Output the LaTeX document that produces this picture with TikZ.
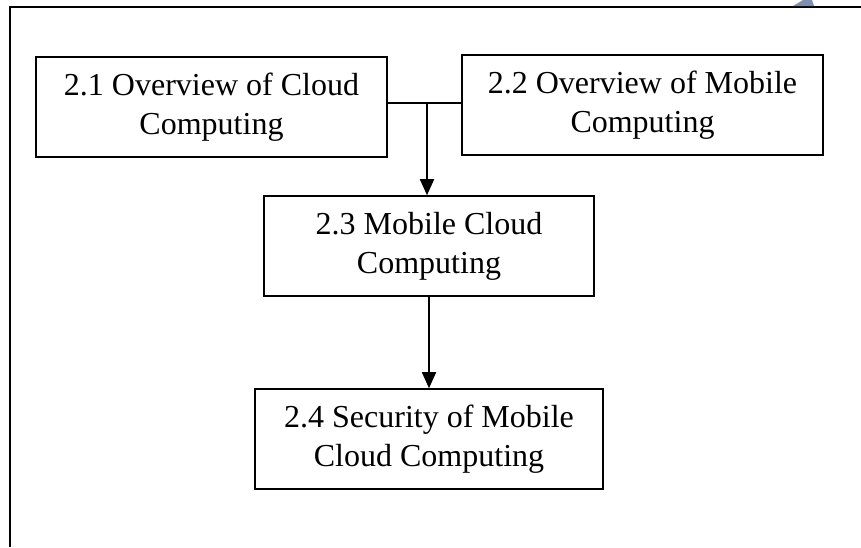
\documentclass[tikz,border=0pt]{standalone}
\usepackage{fontspec}
\setmainfont{Liberation Serif}
\usetikzlibrary{arrows.meta}
\begin{document}
\begin{tikzpicture}[x=1pt,y=-1pt,
  topic/.style={draw, line width=1.6pt, align=center, inner sep=0pt,
    font=\fontsize{32}{39}\selectfont},
  link/.style={line width=1.8pt},
  flow/.style={link, -{Triangle[length=16pt,width=14pt]}}]
  \useasboundingbox (0,0) rectangle (861,547);
  % page frame (left and top edges only)
  \draw[line width=2.6pt] (10,547) -- (10,7) -- (861,7);
  % corner mark
  \fill[fill={rgb,255:red,125;green,145;blue,175}] (793,6) -- (803,0) -- (812,0) -- (814,6) -- cycle;
  % topic boxes
  \node[topic, minimum width=351pt, minimum height=100pt] (b21) at (211.5,107)
    {2.1 Overview of Cloud\\Computing};
  \node[topic, minimum width=361pt, minimum height=100pt] (b22) at (642.5,105)
    {2.2 Overview of Mobile\\Computing};
  \node[topic, minimum width=330pt, minimum height=100pt] (b23) at (429,246)
    {2.3 Mobile Cloud\\Computing};
  \node[topic, minimum width=348pt, minimum height=100pt] (b24) at (429,439)
    {2.4 Security of Mobile\\Cloud Computing};
  % connectors
  \coordinate (j) at (427,103);
  \draw[link] (b21.east |- j) -- (b22.west |- j);
  \draw[flow] (j) -- (j |- b23.north);
  \draw[flow] (b23.south) -- (b24.north);
\end{tikzpicture}
\end{document}
